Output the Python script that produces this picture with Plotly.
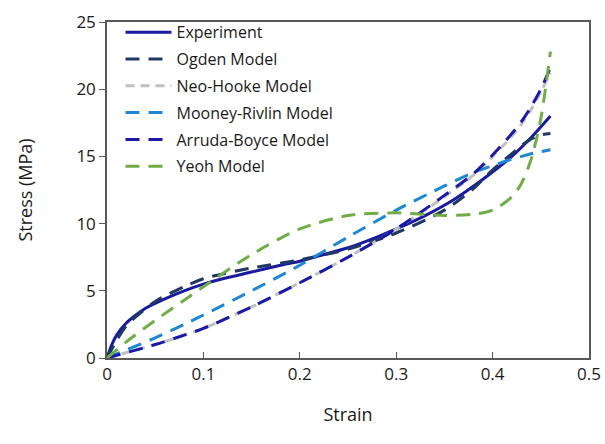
import plotly.graph_objects as go

# Experiment
exp_strain = [0, 0.005, 0.01, 0.02, 0.03, 0.04, 0.06, 0.08, 0.10, 0.12, 0.15, 0.18, 0.20, 0.22, 0.25, 0.28, 0.30, 0.33, 0.36, 0.39, 0.42, 0.44, 0.46]
exp_stress = [0, 1.0, 1.7, 2.6, 3.2, 3.7, 4.4, 5.0, 5.5, 5.9, 6.4, 6.9, 7.2, 7.6, 8.2, 9.0, 9.6, 10.6, 11.8, 13.3, 15.0, 16.4, 18.0]

model_strain = [0, 0.01, 0.02, 0.05, 0.08, 0.10, 0.15, 0.20, 0.25, 0.30, 0.35, 0.38, 0.40, 0.42, 0.43, 0.44, 0.45, 0.46]
ogden_stress = [0, 1.3, 2.4, 4.2, 5.3, 5.9, 6.7, 7.3, 8.1, 9.3, 11.0, 12.6, 14.0, 15.2, 15.8, 16.3, 16.6, 16.7]
neo_stress = [0, 0.2, 0.4, 1.0, 1.7, 2.2, 3.8, 5.6, 7.5, 9.6, 12.0, 13.6, 15.0, 16.5, 17.4, 18.5, 19.8, 21.2]
mooney_stress = [0, 0.3, 0.6, 1.5, 2.5, 3.2, 5.0, 6.9, 9.0, 11.0, 12.8, 13.8, 14.3, 14.8, 15.0, 15.2, 15.35, 15.5]
arruda_stress = [0, 0.2, 0.4, 1.0, 1.7, 2.2, 3.8, 5.6, 7.5, 9.6, 12.1, 13.7, 15.1, 16.7, 17.6, 18.7, 20.0, 21.6]
yeoh_stress = [0, 0.6, 1.2, 2.8, 4.3, 5.3, 7.7, 9.6, 10.6, 10.8, 10.6, 10.7, 11.0, 12.0, 13.0, 14.8, 17.8, 22.8]

fig = go.Figure()

def add(name, x, y, color, dash, width=3):
    fig.add_trace(go.Scatter(x=x, y=y, mode="lines", name=name, legendgroup=name,
                             line=dict(color=color, width=width, dash=dash, shape="spline", smoothing=0.8)))

add("Experiment", exp_strain, exp_stress, "#1a1aa0", "solid")
add("Ogden Model", model_strain, ogden_stress, "#1f3864", "14px,9px")
add("Neo-Hooke Model", model_strain, neo_stress, "#c0c0c0", "9px,6px")
add("Mooney-Rivlin Model", model_strain, mooney_stress, "#1e88d2", "14px,9px")
add("Arruda-Boyce Model", model_strain, arruda_stress, "#1a1aa6", "14px,9px")
add("Yeoh Model", model_strain, yeoh_stress, "#70ad47", "14px,9px")

fig.update_layout(
    width=605, height=444,
    margin=dict(l=107, r=16, t=22, b=86, autoexpand=False),
    paper_bgcolor="white", plot_bgcolor="white",
    font=dict(family="Open Sans, Liberation Sans, sans-serif", color="#1a1a1a"),
    showlegend=True,
    legend=dict(x=0.028, y=1.02, xanchor="left", yanchor="top", bgcolor="rgba(0,0,0,0)",
                font=dict(size=16), itemwidth=46, tracegroupgap=3),
    xaxis=dict(range=[0, 0.5], tickvals=[0, 0.1, 0.2, 0.3, 0.4, 0.5],
               ticktext=["0", "0.1", "0.2", "0.3", "0.4", "0.5"], automargin=False,
               showgrid=False, zeroline=False, showline=True, linecolor="#595959", linewidth=1.5,
               mirror=True, ticks="inside", ticklen=6, tickcolor="#595959",
               tickfont=dict(size=17), title=dict(text="Strain", font=dict(size=18), standoff=24)),
    yaxis=dict(range=[0, 25], dtick=5, showgrid=False, zeroline=False, showline=True, automargin=False,
               linecolor="#595959", linewidth=1.5, mirror=True, ticks="outside", ticklen=6,
               tickcolor="#595959", tickfont=dict(size=17),
               title=dict(text="Stress (MPa)", font=dict(size=18), standoff=39)),
)

fig.write_html("out.html", config={"displayModeBar": False},
               post_script="document.body.style.margin='0';")
